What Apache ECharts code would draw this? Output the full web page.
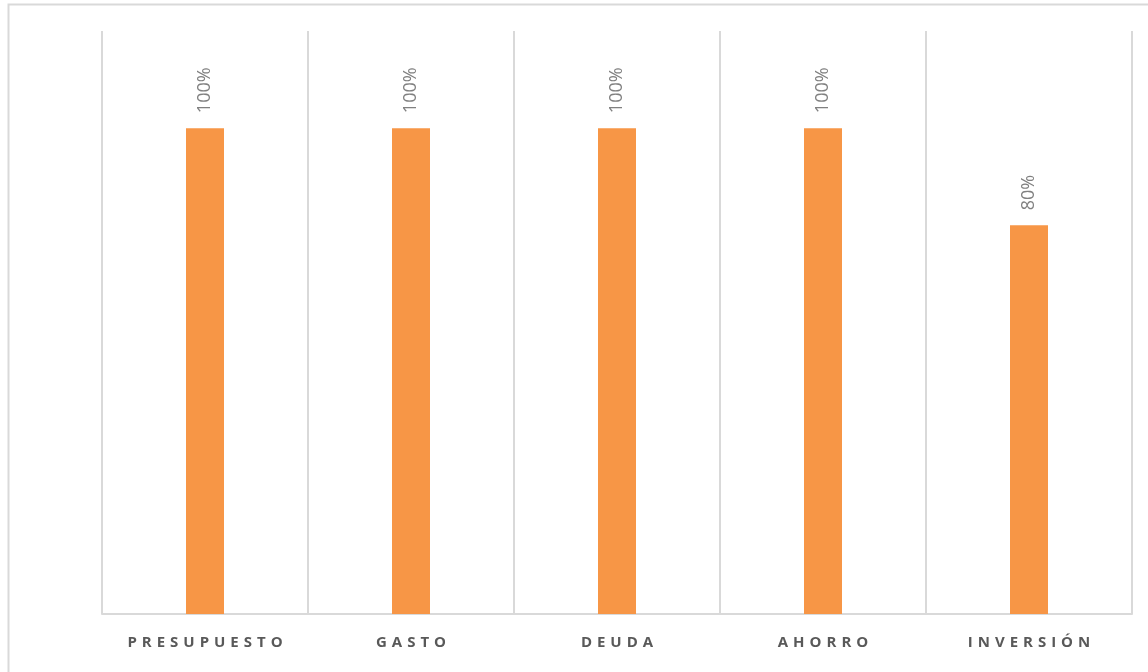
<!DOCTYPE html>
<html>
<head>
<meta charset="utf-8">
<style>
  html, body { margin: 0; padding: 0; background: #ffffff; }
  #chart { width: 1148px; height: 672px; }
</style>
<script src="https://cdn.jsdelivr.net/npm/echarts@6/dist/echarts.min.js"></script>
</head>
<body>
<div id="chart"></div>
<script>
const categories = ['PRESUPUESTO', 'GASTO', 'DEUDA', 'AHORRO', 'INVERSIÓN'];
const values = [100, 100, 100, 100, 80];

const chart = echarts.init(document.getElementById('chart'), null, { renderer: 'canvas' });
chart.setOption({
  backgroundColor: '#ffffff',
  animation: false,
  graphic: [{
    type: 'rect',
    shape: { x: 8.5, y: 4.5, width: 1160, height: 700 },
    style: { fill: 'none', stroke: '#d9d9d9', lineWidth: 2 },
    silent: true
  }],
  grid: { left: 102, right: 16, top: 31, bottom: 58, containLabel: false },
  xAxis: {
    type: 'category',
    data: categories,
    axisLine: { show: true, lineStyle: { color: '#d9d9d9', width: 2 } },
    axisTick: { show: false },
    splitLine: { show: true, lineStyle: { color: '#d9d9d9', width: 2 } },
    axisLabel: {
      margin: 21,
      color: '#595959',
      fontFamily: 'Open Sans',
      fontWeight: 'bold',
      fontSize: 15,
      formatter: function (v) { return v.split('').join('\u2009\u2009'); }
    }
  },
  yAxis: {
    type: 'value',
    min: 0,
    max: 120,
    interval: 20,
    show: false,
    splitLine: { show: false }
  },
  series: [{
    type: 'bar',
    data: values,
    barWidth: 38,
    itemStyle: { color: '#f79646' },
    label: {
      show: true,
      position: 'top',
      rotate: 90,
      align: 'left',
      verticalAlign: 'middle',
      distance: 15,
      color: '#808080',
      fontFamily: 'Open Sans',
      fontSize: 18,
      formatter: function (p) { return p.value + '%'; }
    }
  }]
});
</script>
</body>
</html>
